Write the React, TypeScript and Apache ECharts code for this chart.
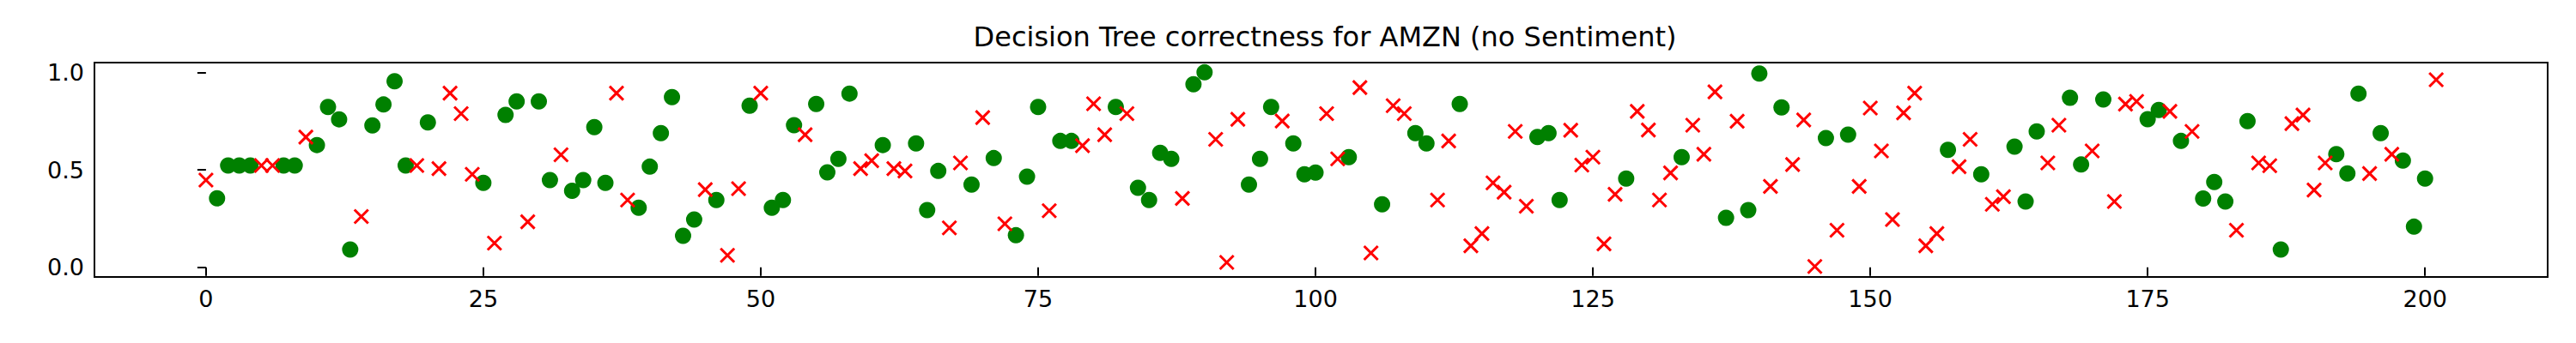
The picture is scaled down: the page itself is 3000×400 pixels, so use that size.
import React, { useEffect, useRef } from "react";
import * as echarts from "echarts";

// predicted probability for each test day (index 0..201)
const probs: number[] = [
  0.447, 0.354, 0.522, 0.522, 0.522, 0.522, 0.522, 0.522, 0.522, 0.668,
  0.627, 0.822, 0.759, 0.091, 0.26, 0.728, 0.835, 0.954, 0.522, 0.522,
  0.743, 0.506, 0.893, 0.788, 0.477, 0.433, 0.124, 0.782, 0.851, 0.233,
  0.851, 0.447, 0.577, 0.392, 0.447, 0.719, 0.433, 0.893, 0.345, 0.305,
  0.516, 0.688, 0.873, 0.161, 0.245, 0.398, 0.345, 0.061, 0.403, 0.829,
  0.893, 0.305, 0.345, 0.729, 0.68, 0.838, 0.487, 0.556, 0.891, 0.506,
  0.547, 0.627, 0.506, 0.494, 0.635, 0.293, 0.494, 0.202, 0.535, 0.424,
  0.768, 0.56, 0.223, 0.164, 0.465, 0.822, 0.29, 0.648, 0.648, 0.624,
  0.839, 0.68, 0.822, 0.788, 0.408, 0.345, 0.587, 0.556, 0.353, 0.939,
  1.0, 0.656, 0.025, 0.759, 0.424, 0.556, 0.822, 0.75, 0.635, 0.477,
  0.486, 0.788, 0.556, 0.565, 0.922, 0.073, 0.323, 0.829, 0.788, 0.688,
  0.635, 0.345, 0.648, 0.838, 0.11, 0.173, 0.433, 0.385, 0.697, 0.313,
  0.668, 0.688, 0.345, 0.703, 0.524, 0.565, 0.12, 0.374, 0.455, 0.8,
  0.704, 0.345, 0.484, 0.565, 0.729, 0.58, 0.9, 0.254, 0.749, 0.293,
  0.994, 0.415, 0.82, 0.527, 0.756, 0.004, 0.663, 0.19, 0.68, 0.415,
  0.817, 0.597, 0.245, 0.792, 0.893, 0.11, 0.173, 0.602, 0.516, 0.656,
  0.477, 0.323, 0.362, 0.619, 0.337, 0.697, 0.535, 0.729, 0.87, 0.527,
  0.597, 0.861, 0.337, 0.837, 0.851, 0.76, 0.807, 0.8, 0.648, 0.697,
  0.353, 0.437, 0.337, 0.19, 0.75, 0.535, 0.521, 0.091, 0.737, 0.781,
  0.396, 0.535, 0.58, 0.481, 0.891, 0.481, 0.688, 0.58, 0.547, 0.208,
  0.455, 0.962,
];

// 1 = correct prediction (green dot), 0 = wrong (red x)
const correct: number[] = [
  0, 1, 1, 1, 1, 0, 0, 1, 1, 0, 1, 1, 1, 1, 0, 1, 1, 1, 1, 0,
  1, 0, 0, 0, 0, 1, 0, 1, 1, 0, 1, 1, 0, 1, 1, 1, 1, 0, 0, 1,
  1, 1, 1, 1, 1, 0, 1, 0, 0, 1, 0, 1, 1, 1, 0, 1, 1, 1, 1, 0,
  0, 1, 0, 0, 1, 1, 1, 0, 0, 1, 0, 1, 0, 1, 1, 1, 0, 1, 1, 0,
  0, 0, 1, 0, 1, 1, 1, 1, 0, 1, 1, 0, 0, 0, 1, 1, 1, 0, 1, 1,
  1, 0, 0, 1, 0, 0, 1, 0, 0, 1, 1, 0, 0, 1, 0, 0, 0, 0, 0, 0,
  1, 1, 1, 0, 0, 0, 0, 0, 1, 0, 0, 0, 0, 1, 0, 0, 0, 1, 0, 1,
  1, 0, 1, 0, 0, 0, 1, 0, 1, 0, 0, 0, 0, 0, 0, 0, 0, 1, 0, 0,
  1, 0, 0, 1, 1, 1, 0, 0, 1, 1, 0, 1, 0, 0, 0, 1, 1, 0, 1, 0,
  1, 1, 1, 0, 1, 0, 0, 1, 0, 0, 0, 0, 1, 1, 1, 0, 1, 0, 1, 1,
  1, 0,
];

const xTicks = [0, 25, 50, 75, 100, 125, 150, 175, 200];
const yTicks = [0, 0.5, 1];

const App = () => {
  const chartRef = useRef<HTMLDivElement>(null);

  useEffect(() => {
    const chart = echarts.init(chartRef.current, null, { renderer: "svg" });

    const good = probs.map((p, i) => [i, p]).filter((_, i) => correct[i] === 1);
    const bad = probs.map((p, i) => [i, p]).filter((_, i) => correct[i] === 0);

    const font = "DejaVu Sans";

    const option = {
      animation: false,
      backgroundColor: "#fff",
      title: {
        text: "Decision Tree correctness for AMZN (no Sentiment)",
        left: 1538,
        top: 22,
        textAlign: "center",
        textStyle: { fontFamily: font, fontSize: 32, fontWeight: "normal", color: "#000" },
      },
      grid: { left: 110, right: 33, top: 73, bottom: 77, show: true, borderColor: "#000", borderWidth: 2 },
      xAxis: {
        type: "value",
        min: -10.05,
        max: 211.05,
        splitLine: { show: false },
        axisLine: { show: false },
        axisTick: { show: true, customValues: xTicks, length: 10, lineStyle: { color: "#000", width: 2 } },
        axisLabel: {
          customValues: xTicks,
          color: "#000",
          fontFamily: font,
          fontSize: 27,
          margin: 12,
        },
      },
      yAxis: {
        type: "value",
        min: -0.05,
        max: 1.05,
        splitLine: { show: false },
        axisLine: { show: false },
        axisTick: { show: true, customValues: yTicks, length: 10, lineStyle: { color: "#000", width: 2 } },
        axisLabel: {
          customValues: yTicks,
          color: "#000",
          fontFamily: font,
          fontSize: 27,
          margin: 12,
          formatter: (v: number) => v.toFixed(1),
        },
      },
      series: [
        {
          type: "scatter",
          data: good,
          symbol: "circle",
          symbolSize: 19,
          itemStyle: { color: "#008000", opacity: 1 },
        },
        {
          type: "scatter",
          data: bad,
          symbol: "path://M0,0L10,10M10,0L0,10",
          symbolSize: 16,
          itemStyle: { color: "transparent", borderColor: "#ff0000", borderWidth: 3, opacity: 1 },
        },
      ],
    };

    chart.setOption(option);

    return () => {
      chart.dispose();
    };
  }, []);

  return <div ref={chartRef} style={{ width: 3000, height: 400, margin: -8 }} />;
};

export default App;
